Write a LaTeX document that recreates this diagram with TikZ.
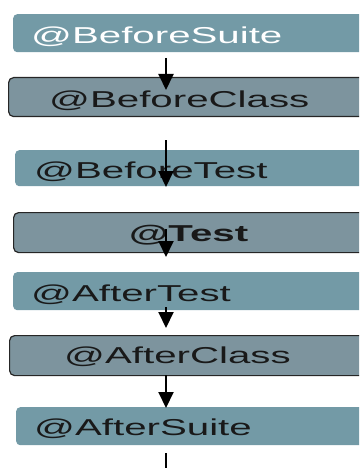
\documentclass[tikz,border=0pt]{standalone}
\usepackage{fontspec}
\setmainfont{Liberation Sans}
\usepackage{graphicx}
\usetikzlibrary{arrows.meta}

\definecolor{suiteteal}{HTML}{739AA6}
\definecolor{classgray}{HTML}{7D949E}
\newcommand{\widetxt}[1]{\scalebox{1.75}[1]{#1}}

\begin{document}
\begin{tikzpicture}[x=1pt, y=-1pt,
  plainbox/.style={fill=suiteteal, rounded corners=4pt, minimum height=38pt,
    minimum width=360pt, anchor=north west, inner sep=0pt},
  framebox/.style={fill=classgray, draw=black!85, line width=1.2pt,
    rounded corners=5pt, minimum height=39pt, minimum width=360pt,
    anchor=north west, inner sep=0pt},
  lbl/.style={anchor=base west, inner sep=0pt,
    font=\fontsize{23}{26}\selectfont, text=black!90},
  flow/.style={line width=2pt, -{Triangle[length=16pt, width=15pt]}}]
\useasboundingbox (0,0) rectangle (359,468);
\clip (0,0) rectangle (359,468);
% boxes
\node[plainbox] (bsuite) at (13,14) {};
\node[framebox] (bclass) at (8,77) {};
\node[plainbox, minimum height=36pt] (btest) at (15,150) {};
\node[framebox, minimum height=40pt] (test) at (13,212) {};
\node[plainbox] (atest) at (13,272) {};
\node[framebox, minimum height=40pt] (aclass) at (9,335) {};
\node[plainbox] (asuite) at (16,407) {};
% labels
\node[lbl, text=white] (bsuite-t) at (31,43.5) {\widetxt{@BeforeSuite}};
\node[lbl] (bclass-t) at (49,108) {\widetxt{@BeforeClass}};
\node[lbl] (btest-t) at (34,178) {\widetxt{@BeforeTest}};
\node[lbl, font=\fontsize{23}{26}\selectfont\bfseries] (test-t) at (129,241) {\widetxt{@Test}};
\node[lbl] (atest-t) at (31,301) {\widetxt{@AfterTest}};
\node[lbl] (aclass-t) at (64,363) {\widetxt{@AfterClass}};
\node[lbl] (asuite-t) at (34,435) {\widetxt{@AfterSuite}};
% arrows
\coordinate (s1) at (166,58);  \coordinate (e1) at (166,90);
\coordinate (s2) at (166,140); \coordinate (e2) at (166,187);
\coordinate (s3) at (166,229); \coordinate (e3) at (166,257);
\coordinate (s4) at (166,307); \coordinate (e4) at (166,328);
\coordinate (s5) at (166,375); \coordinate (e5) at (166,408);
\coordinate (s6) at (166,453); \coordinate (e6) at (166,470);
\draw[flow] (s1) -- (e1);
\draw[flow] (s2) -- (e2);
\draw[flow] (s3) -- (e3);
\draw[flow] (s4) -- (e4);
\draw[flow] (s5) -- (e5);
\draw[line width=2pt] (s6) -- (e6);
\end{tikzpicture}
\end{document}
